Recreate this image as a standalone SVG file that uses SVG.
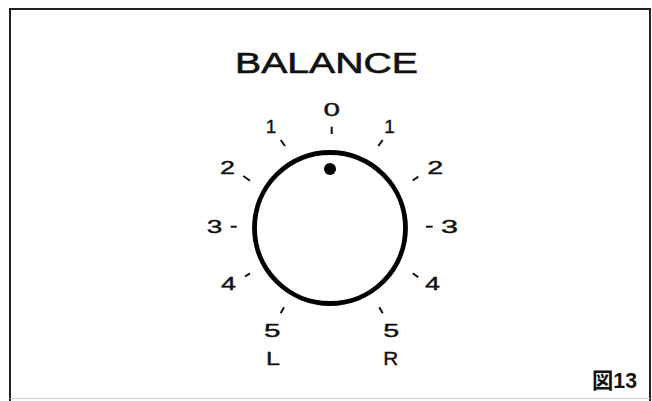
<svg xmlns="http://www.w3.org/2000/svg" width="652" height="401" viewBox="0 0 652 401">
<style>
.frame{fill:none;stroke:#222;stroke-width:2}
.tick{stroke:#111;stroke-width:2;stroke-linecap:butt;fill:none}
.num{font-family:"Liberation Sans",Arial,sans-serif;font-size:19px;fill:#111;stroke:#111;stroke-width:0.4;text-anchor:middle}
.title{font-family:"Liberation Sans",Arial,sans-serif;font-size:29px;fill:#111;stroke:#111;stroke-width:0.6;text-anchor:middle}
.fig{font-family:"Liberation Sans","Noto Sans CJK JP",sans-serif;font-size:22px;font-weight:bold;fill:#111}
</style>
<rect x="0" y="0" width="652" height="401" fill="#fff"/>
<g id="frame">
<path class="frame" d="M10,401 L10,9 L650,9 L650,401"/>
<line x1="10" y1="398.5" x2="650" y2="398.5" stroke="#ccc" stroke-width="1"/>
</g>
<g id="title"><text class="title" x="326.5" y="73.3" textLength="183" lengthAdjust="spacingAndGlyphs">BALANCE</text></g>
<g id="knob">
<circle cx="330" cy="228" r="75.5" fill="#fff" stroke="#000" stroke-width="4.8"/>
<circle cx="330" cy="169" r="6" fill="#000"/>
</g>
<g id="connectors">
<line class="tick" x1="331.7" y1="126.7" x2="331.7" y2="134"/>
<line class="tick" x1="280.7" y1="140" x2="285" y2="146"/>
<line class="tick" x1="382.7" y1="140" x2="378.3" y2="146"/>
<line class="tick" x1="243.3" y1="176" x2="250" y2="180.7"/>
<line class="tick" x1="412.7" y1="180.5" x2="418.3" y2="176.7"/>
<line class="tick" x1="230.7" y1="226.7" x2="236.7" y2="226.7"/>
<line class="tick" x1="426" y1="226.7" x2="432.7" y2="226.7"/>
<line class="tick" x1="245" y1="276.5" x2="250" y2="273.3"/>
<line class="tick" x1="412.7" y1="273.3" x2="418.3" y2="277.3"/>
<line class="tick" x1="280.7" y1="313.3" x2="284" y2="307.3"/>
<line class="tick" x1="379.3" y1="307.3" x2="382.7" y2="313.3"/>
</g>
<g id="labels">
<text class="num" x="331.7" y="116" textLength="16.5" lengthAdjust="spacingAndGlyphs">0</text>
<text class="num" x="271" y="132.7">1</text>
<text class="num" x="389.5" y="132.7">1</text>
<text class="num" x="227.5" y="173.5" textLength="15" lengthAdjust="spacingAndGlyphs">2</text>
<text class="num" x="435.3" y="174" textLength="16" lengthAdjust="spacingAndGlyphs">2</text>
<text class="num" x="214.5" y="233.3" textLength="15.6" lengthAdjust="spacingAndGlyphs">3</text>
<text class="num" x="449.5" y="233.3" textLength="17" lengthAdjust="spacingAndGlyphs">3</text>
<text class="num" x="228.5" y="290" textLength="15" lengthAdjust="spacingAndGlyphs">4</text>
<text class="num" x="432.5" y="290" textLength="15" lengthAdjust="spacingAndGlyphs">4</text>
<text class="num" x="272.3" y="336.7" textLength="16.5" lengthAdjust="spacingAndGlyphs">5</text>
<text class="num" x="391.3" y="336.7" textLength="16" lengthAdjust="spacingAndGlyphs">5</text>
<text class="num" x="273" y="365" textLength="14" lengthAdjust="spacingAndGlyphs">L</text>
<text class="num" x="390.8" y="365" textLength="15" lengthAdjust="spacingAndGlyphs">R</text>
</g>
<g id="caption"><text class="fig" x="592" y="388" textLength="45" lengthAdjust="spacingAndGlyphs">図13</text></g>
</svg>
